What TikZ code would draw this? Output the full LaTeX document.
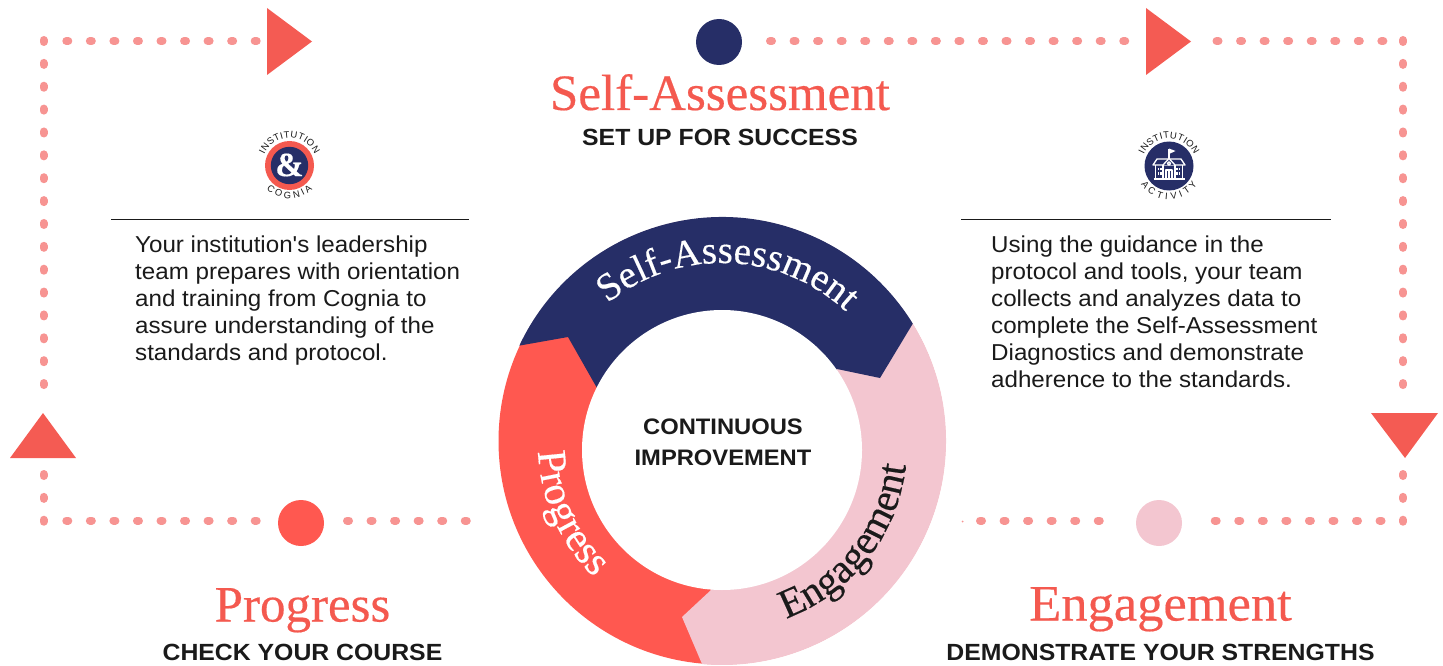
\documentclass[tikz,border=0pt]{standalone}
\usepackage{fontspec}
\usetikzlibrary{decorations.text,calc}
\setmainfont{Liberation Sans}
\newfontfamily\bodyfam[FakeStretch=1.05]{Liberation Sans}
\newfontfamily\capsfam[FakeStretch=1.06]{Liberation Sans}
\newfontfamily\seriffam[FakeBold=0.35]{Liberation Serif}
\newfontfamily\seriffamwide[FakeBold=0.35,FakeStretch=1.03]{Liberation Serif}
\definecolor{navy}{HTML}{262E67}
\definecolor{coral}{HTML}{FF5850}
\definecolor{headred}{HTML}{F4594F}
\definecolor{tri}{HTML}{F45B53}
\definecolor{blush}{HTML}{F3C6D0}
\definecolor{dotc}{HTML}{F79492}
\definecolor{ink}{HTML}{1A1A1A}
\newcommand{\ringfont}{\fontsize{41}{41}\selectfont\seriffam}
\newcommand{\ringfontb}{\fontsize{39}{39}\selectfont\seriffam}
\newcommand{\tinyfont}{\fontsize{9.4}{9.4}\selectfont}
\tikzset{
  dotsh/.style={draw=dotc,line width=8pt,line cap=round,dash pattern=on 2pt off 21.55pt},
  dotsv/.style={draw=dotc,line width=8pt,line cap=round,dash pattern=on 2pt off 20.87pt},
  tridraw/.style={fill=tri,draw=none},
  stepdot/.style={circle,draw=none,minimum size=46pt,inner sep=0pt},
  heading/.style={anchor=base,inner sep=0pt,text=headred,font=\fontsize{51}{51}\selectfont\seriffam},
  subhead/.style={anchor=base,inner sep=0pt,text=ink,font=\fontsize{23.4}{24}\selectfont\capsfam\bfseries},
  centertext/.style={anchor=base,inner sep=0pt,text=ink,font=\fontsize{22.4}{22}\selectfont\capsfam\bfseries},
  bodytext/.style={anchor=north west,inner sep=0pt,align=left,text=ink,font=\fontsize{23}{27}\selectfont\bodyfam},
  rulel/.style={draw=ink,line width=1pt},
  arctext/.style={decorate,decoration={text along path,text align=fit to path}},
}
\begin{document}
\begin{tikzpicture}[x=1pt,y=-1pt]
\useasboundingbox (0,0) rectangle (1443,666);
% ---- coordinates
\coordinate (oc) at (722,441);
\coordinate (ic) at (722,450);
\coordinate (tc) at (722,445);
% ---- dotted runs
\coordinate (tl0) at (66.3,41); \coordinate (tl1) at (258,41);
\coordinate (lv0) at (43.5,40); \coordinate (lv1) at (43.5,386);
\coordinate (lw0) at (43.5,474); \coordinate (lw1) at (43.5,522);
\coordinate (bl0) at (66.3,520.5); \coordinate (bl1) at (258,520.5);
\coordinate (bm0) at (347,520.5); \coordinate (bm1) at (468,520.5);
\coordinate (br0) at (980,520.5); \coordinate (br1) at (1101,520.5);
\coordinate (bs0) at (1214.7,520.5); \coordinate (bs1) at (1383,520.5);
\coordinate (tm0) at (770,41); \coordinate (tm1) at (1126,41);
\coordinate (tr0) at (1216.5,41); \coordinate (tr1) at (1384,41);
\coordinate (rv0) at (1403,40); \coordinate (rv1) at (1403,386);
\coordinate (rw0) at (1403,474); \coordinate (rw1) at (1403,522);
\draw[dotsh] (tl0) -- (tl1);
\draw[dotsv] (lv0) -- (lv1);
\draw[dotsv] (lw0) -- (lw1);
\draw[dotsh] (bl0) -- (bl1);
\draw[dotsh] (bm0) -- (bm1);
\draw[dotsh] (br0) -- (br1);
\draw[dotsh] (bs0) -- (bs1);
\draw[dotsh] (tm0) -- (tm1);
\draw[dotsh] (tr0) -- (tr1);
\draw[dotsv] (rv0) -- (rv1);
\draw[dotsv] (rw0) -- (rw1);
\fill[dotc] (962.5,521.5) circle (1pt);
% ---- triangles
\path[tridraw] (267,8) -- (312,41.5) -- (267,75) -- cycle;
\path[tridraw] (1146,8) -- (1191,41.5) -- (1146,75) -- cycle;
\path[tridraw] (10,458) -- (43,413) -- (76,458) -- cycle;
\path[tridraw] (1371,413) -- (1438,413) -- (1405,458) -- cycle;
% ---- step dots
\node[stepdot,fill=navy] (sdot) at (719,42) {};
\node[stepdot,fill=coral] (pdot) at (301,523) {};
\node[stepdot,fill=blush] (edot) at (1159,523) {};
% ---- headings
\node[heading] (h1) at (720,110) {Self-Assessment};
\node[subhead] (s1) at (720,146) {SET UP FOR SUCCESS};
\node[heading] (h2) at (302.5,621.5) {Progress};
\node[subhead] (s2) at (302.5,660) {CHECK YOUR COURSE};
\node[heading,font=\fontsize{51}{51}\selectfont\seriffamwide] (h3) at (1160.5,620.5) {Engagement};
\node[subhead] (s3) at (1160.5,660) {DEMONSTRATE YOUR STRENGTHS};
% ---- rules
\coordinate (r1a) at (111,219); \coordinate (r1b) at (469,219);
\coordinate (r2a) at (961,219); \coordinate (r2b) at (1331,219);
\draw[rulel] (r1a) -- (r1b);
\draw[rulel] (r2a) -- (r2b);
% ---- body
\node[bodytext] (b1) at (135,236) {Your institution's leadership\\team prepares with orientation\\and training from Cognia to\\assure understanding of the\\standards and protocol.};
\node[bodytext] (b2) at (991,236) {Using the guidance in the\\protocol and tools, your team\\collects and analyzes data to\\complete the Self-Assessment\\Diagnostics and demonstrate\\adherence to the standards.};
% ---- ring
\fill[coral] (oc) circle (223.5);
\fill[blush] ($(oc)+(-31.6:224)$) arc[start angle=-31.6,end angle=95.1,radius=224] -- (682,617) -- (711,590) -- (ic) -- (837,369) -- cycle;
\fill[navy] ($(oc)+(-154.8:224)$) arc[start angle=-154.8,end angle=-31.6,radius=224] -- (880,378) -- (837,369) -- (ic) -- (597,388) -- (568,337) -- cycle;
\fill[white] (ic) circle (140);
\path[decorate,decoration={text along path,text align=center,text={|\ringfontb\color{white}|Self-Assessment}}]
  ($(tc)+(-148:182)$) arc[start angle=-148,end angle=-28,radius=182];
\path[decorate,decoration={text along path,text align=center,text={|\ringfont\color{white}|Progress}}]
  ($(tc)+(-164:184)$) arc[start angle=-164,end angle=-244,radius=184];
\path[decorate,decoration={text along path,text align=center,text={|\ringfont\color{ink}|Engagement}}]
  ($(tc)+(98:185)$) arc[start angle=98,end angle=-22,radius=185];
\node[centertext] (c1) at (723,434) {CONTINUOUS};
\node[centertext] (c2) at (723,465) {IMPROVEMENT};
% ---- ampersand badge
\coordinate (ba) at (289.5,165.5);
\fill[headred] (ba) circle (24.5);
\fill[navy] (ba) circle (18.7);
\node[inner sep=0pt,text=white,font=\fontsize{34}{34}\selectfont\seriffam\bfseries] (amp) at (289.5,165) {\&};
\path[arctext,decoration={text={|\tinyfont\color{ink}|INSTITUTION}}]
  ($(ba)+(-156:27.5)$) arc[start angle=-156,end angle=-24,radius=27.5];
\path[arctext,decoration={text={|\tinyfont\color{ink}|COGNIA}}]
  ($(ba)+(134:33)$) arc[start angle=134,end angle=46,radius=33];
% ---- school badge
\coordinate (bb) at (1169,166);
\fill[navy] (bb) circle (24.5);
\path[arctext,decoration={text={|\tinyfont\color{ink}|INSTITUTION}}]
  ($(bb)+(-156:27.5)$) arc[start angle=-156,end angle=-24,radius=27.5];
\path[arctext,decoration={text={|\tinyfont\color{ink}|ACTIVITY}}]
  ($(bb)+(147:33.5)$) arc[start angle=147,end angle=33,radius=33.5];
\begin{scope}[shift={(bb)},draw=white,line width=1.3pt,line join=round]
  \draw (0,-6) -- (0,-17);
  \fill[white] (0,-17.5) -- (6.5,-15) -- (0,-12) -- cycle;
  \draw (-16,-1) -- (-12,-7) -- (12,-7) -- (16,-1) -- cycle;
  \draw[fill=navy] (-6,-1) -- (0,-7.5) -- (6,-1);
  \draw (0,-2.5) circle (1.6);
  \draw (-13.5,-1) -- (-13.5,13) -- (13.5,13) -- (13.5,-1);
  \draw (-15.5,13) -- (15.5,13);
  \draw (-6,-1) -- (-6,13); \draw (6,-1) -- (6,13);
  \draw (-3,13) -- (-3,4) -- (3,4) -- (3,13); \draw (0,4) -- (0,13);
  \foreach \wx in {-10.5,-8.2}{\foreach \wy in {3,7.5}{\fill[white] (\wx-0.9,\wy-1.4) rectangle (\wx+0.9,\wy+1.4);}}
  \foreach \wx in {8.2,10.5}{\foreach \wy in {3,7.5}{\fill[white] (\wx-0.9,\wy-1.4) rectangle (\wx+0.9,\wy+1.4);}}
\end{scope}
\end{tikzpicture}
\end{document}
